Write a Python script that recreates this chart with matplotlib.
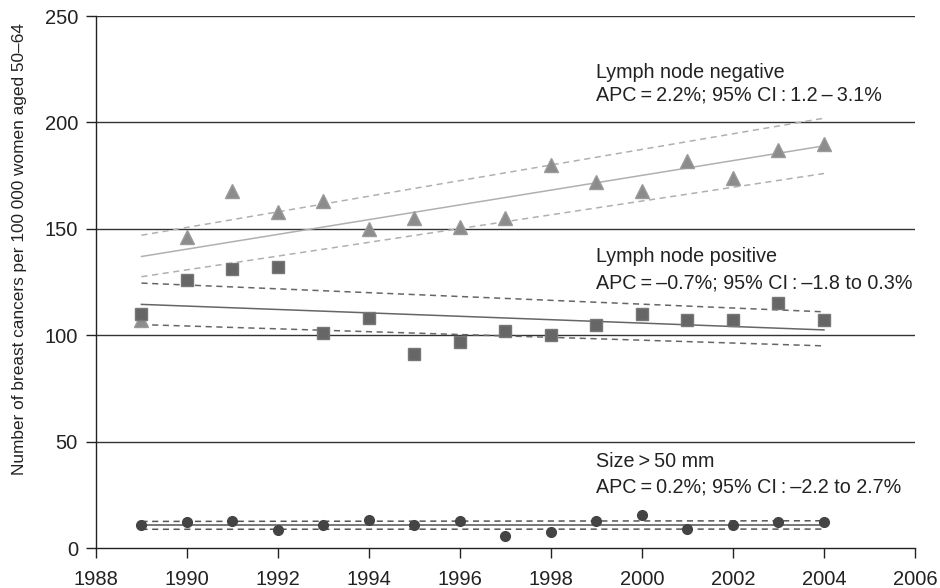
import matplotlib
matplotlib.use("Agg")
import matplotlib.pyplot as plt

plt.rcParams['font.family'] = ['Liberation Sans', 'DejaVu Sans']

# data
years = list(range(1989, 2005))
node_neg = [107, 146, 168, 158, 163, 150, 155, 151, 155, 180, 172, 168, 182, 174, 187, 190]
node_pos = [110, 126, 131, 132, 101, 108, 91, 97, 102, 100, 105, 110, 107, 107, 115, 107]
size_50 = [11, 12, 12.5, 8.5, 11, 13, 11, 12.5, 5.6, 7.5, 12.5, 15.5, 9, 11, 12, 12]

# trend lines: value at 1989 and at 2004 (fit, lower CI, upper CI)
fit_years = [1989, 2004]
neg_fit = [137, 189]
neg_lo = [127.5, 176]
neg_hi = [147, 202]
pos_fit = [114.5, 102.5]
pos_lo = [105, 95]
pos_hi = [124.5, 111]
size_fit = [10.7, 10.7]
size_lo = [8.8, 8.9]
size_hi = [12.5, 12.8]

labels = [
    ("Lymph node negative", "APC\u2009=\u20092.2%; 95% CI\u2009:\u20091.2\u2009\u2013\u20093.1%", 223.5, 213),
    ("Lymph node positive", "APC\u2009=\u2009\u20130.7%; 95% CI\u2009:\u2009\u20131.8 to 0.3%", 137, 124.5),
    ("Size\u2009>\u200950 mm", "APC\u2009=\u20090.2%; 95% CI\u2009:\u2009\u20132.2 to 2.7%", 40.5, 28.7),
]

fig = plt.figure(figsize=(9.4, 5.88), dpi=100)
ax = fig.add_axes([0.1021, 0.068, 0.8713, 0.9047])

for y in [50, 100, 150, 200, 250]:
    ax.axhline(y, color='#333333', lw=1.0, zorder=1)

# node negative
ax.plot(fit_years, neg_fit, color='#b0b0b0', lw=1.1, zorder=2)
ax.plot(fit_years, neg_lo, color='#b0b0b0', lw=1.1, ls=(0, (4, 3)), zorder=2)
ax.plot(fit_years, neg_hi, color='#b0b0b0', lw=1.1, ls=(0, (4, 3)), zorder=2)
ax.plot(years, node_neg, ls='none', marker='^', ms=9.5, color='#8c8c8c',
        markeredgecolor='#9a9a9a', zorder=3)

# node positive
ax.plot(fit_years, pos_fit, color='#666666', lw=1.1, zorder=2)
ax.plot(fit_years, pos_lo, color='#666666', lw=1.1, ls=(0, (4, 3)), zorder=2)
ax.plot(fit_years, pos_hi, color='#666666', lw=1.1, ls=(0, (4, 3)), zorder=2)
ax.plot(years, node_pos, ls='none', marker='s', ms=9, color='#666666',
        markeredgecolor='#777777', zorder=3)

# size > 50 mm
ax.plot(fit_years, size_fit, color='#555555', lw=1.1, zorder=2)
ax.plot(fit_years, size_lo, color='#555555', lw=1.1, ls=(0, (4, 3)), zorder=2)
ax.plot(fit_years, size_hi, color='#555555', lw=1.1, ls=(0, (4, 3)), zorder=2)
ax.plot(years, size_50, ls='none', marker='o', ms=7, color='#444444', zorder=3)

for title, apc, y1, y2 in labels:
    ax.text(1999.0, y1, title, fontsize=14.2, color='#222222', va='center', ha='left')
    ax.text(1999.0, y2, apc, fontsize=14.2, color='#222222', va='center', ha='left')

ax.set_xlim(1988, 2006)
ax.set_ylim(0, 250)
ax.set_xticks(range(1988, 2007, 2))
ax.set_yticks(range(0, 251, 50))
ax.tick_params(axis='both', direction='out', length=7, width=1, labelsize=14.5,
               colors='#222222', pad=6)
ax.tick_params(axis='x', pad=9)
for s in ['top', 'right']:
    ax.spines[s].set_visible(False)
for s in ['left', 'bottom']:
    ax.spines[s].set_color('#222222')
    ax.spines[s].set_linewidth(1.0)

ax.set_ylabel("Number of breast cancers per 100 000 women aged 50\u201364",
              fontsize=12.4, color='#222222')
ax.yaxis.set_label_coords(-0.084, 0.562)

fig.savefig("out.png", dpi=100)
